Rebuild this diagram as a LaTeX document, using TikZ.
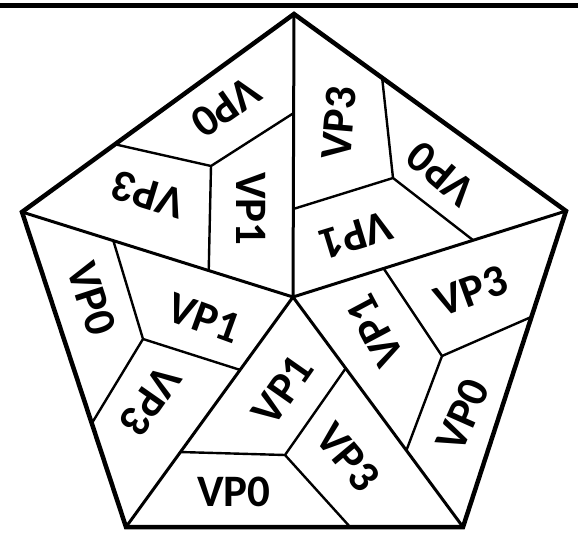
\documentclass[tikz,border=0pt]{standalone}
\usepackage{fontspec}
\setmainfont{Carlito}
\usetikzlibrary{calc}
\begin{document}
\begin{tikzpicture}[x=1pt,y=-1pt,
  outer/.style={line width=4.5pt, line join=miter},
  spoke/.style={line width=3pt},
  inner/.style={line width=2.4pt},
  topbar/.style={line width=5.5pt},
  lbl/.style={font=\fontsize{45}{45}\selectfont\bfseries, inner sep=0pt, anchor=center}]
\useasboundingbox (0,0) rectangle (578,541);
% top rule
\coordinate (barL) at (0,5.3);
\coordinate (barR) at (578,5.3);
\draw[topbar] (barL) -- (barR);
% pentagon vertices and centre
\coordinate (T) at (294,14);
\coordinate (L) at (22,212);
\coordinate (R) at (566,211);
\coordinate (BL) at (126,527);
\coordinate (BR) at (463,527);
\coordinate (C) at (293,297);
% internal points
\coordinate (I1) at (211,166);
\coordinate (I2) at (393,178);
\coordinate (I3) at (442,356);
\coordinate (I4) at (285,455);
\coordinate (I5) at (143,339);
% edge points
\coordinate (e1a) at ($(T)!0.658!(L)$);
\coordinate (e1b) at ($(T)!0.35!(C)$);
\coordinate (e1c) at ($(L)!0.689!(C)$);
\coordinate (e2a) at ($(T)!0.324!(R)$);
\coordinate (e2b) at ($(T)!0.689!(C)$);
\coordinate (e2c) at ($(C)!0.66!(R)$);
\coordinate (e3a) at ($(C)!0.332!(R)$);
\coordinate (e3b) at ($(R)!0.335!(BR)$);
\coordinate (e3c) at ($(C)!0.667!(BR)$);
\coordinate (e4a) at ($(C)!0.674!(BL)$);
\coordinate (e4b) at ($(C)!0.31!(BR)$);
\coordinate (e4c) at ($(BL)!0.665!(BR)$);
\coordinate (e5a) at ($(L)!0.337!(C)$);
\coordinate (e5b) at ($(L)!0.671!(BL)$);
\coordinate (e5c) at ($(C)!0.317!(BL)$);
% internal lines
\draw[inner] (e1a) -- (I1) -- (e1b) (I1) -- (e1c);
\draw[inner] (e2a) -- (I2) -- (e2b) (I2) -- (e2c);
\draw[inner] (e3a) -- (I3) -- (e3b) (I3) -- (e3c);
\draw[inner] (e4a) -- (I4) -- (e4b) (I4) -- (e4c);
\draw[inner] (e5a) -- (I5) -- (e5b) (I5) -- (e5c);
% spokes
\draw[spoke] (C) -- (T) (C) -- (L) (C) -- (R) (C) -- (BL) (C) -- (BR);
% outline
\draw[outer] (T) -- (R) -- (BR) -- (BL) -- (L) -- cycle;
% labels
\node[lbl, rotate=215] (a0) at (226,107) {VP0};
\node[lbl, rotate=163] (a3) at (148,195) {VP3};
\node[lbl, rotate=-90] (a1) at (251,209) {VP1};
\node[lbl, rotate=85]  (b3) at (339,123) {VP3};
\node[lbl, rotate=140] (b0) at (441,174) {VP0};
\node[lbl, rotate=197] (b1) at (356,235) {VP1};
\node[lbl, rotate=20]  (c3) at (471,291) {VP3};
\node[lbl, rotate=118] (c1) at (375,331) {VP1};
\node[lbl, rotate=66]  (c0) at (463,415) {VP0};
\node[lbl, rotate=55]  (d1) at (283,390) {VP1};
\node[lbl, rotate=-50] (d3) at (348,457) {VP3};
\node[lbl, rotate=0]   (d0) at (234,492) {VP0};
\node[lbl, rotate=-72] (f0) at (92,299) {VP0};
\node[lbl, rotate=-20] (f1) at (204,318) {VP1};
\node[lbl, rotate=235] (f3) at (150,401) {VP3};
\end{tikzpicture}
\end{document}
